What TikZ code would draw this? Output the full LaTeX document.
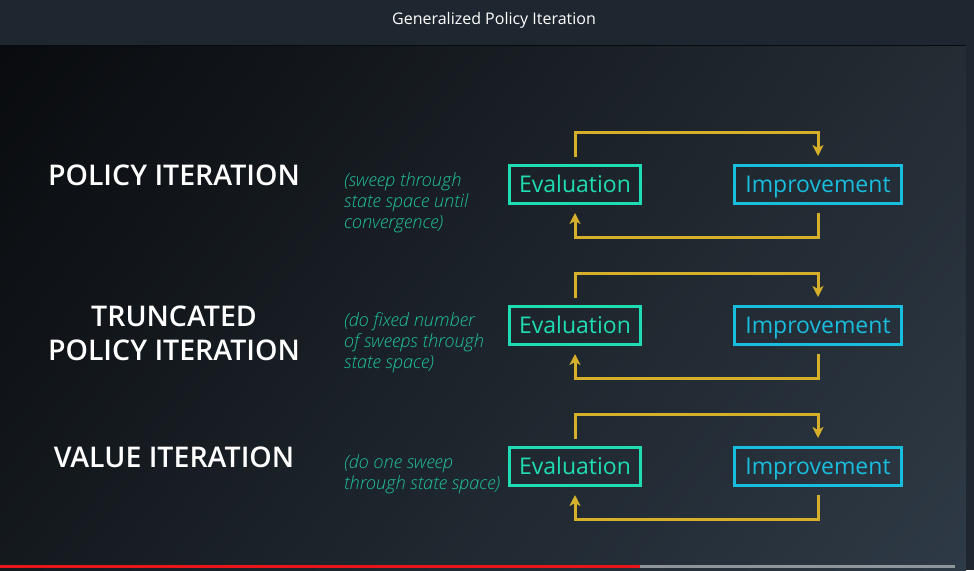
\documentclass[tikz,border=0pt]{standalone}
\usepackage{fontspec}
\setmainfont{Open Sans}
\newfontfamily\headfont{Open Sans Semibold}
\newfontfamily\lightfont{Open Sans Light}
\usetikzlibrary{arrows.meta,calc,shadings}
\definecolor{hdr}{HTML}{1E2730}
\definecolor{evalc}{HTML}{1FDDB2}
\definecolor{impc}{HTML}{19BEDF}
\definecolor{goldc}{HTML}{D6B02B}
\definecolor{notec}{HTML}{1FC39A}
\definecolor{barred}{HTML}{E8161B}
\definecolor{bargray}{HTML}{8E959B}
\definecolor{bgul}{HTML}{090B0E}
\definecolor{bgur}{HTML}{242C34}
\definecolor{bgll}{HTML}{14191E}
\definecolor{bglr}{HTML}{2E3A46}
\begin{document}
\begin{tikzpicture}[x=1pt,y=-1pt,
  evalbox/.style={draw=evalc,line width=3pt,text=evalc,minimum width=131pt,minimum height=38pt,inner sep=0pt,text height=16pt,text depth=0pt,font=\fontsize{23}{26}\selectfont},
  impbox/.style={draw=impc,line width=3pt,text=impc,minimum width=167pt,minimum height=38pt,inner sep=0pt,text height=16pt,text depth=0pt,font=\fontsize{23}{26}\selectfont},
  heading/.style={text=white,align=center,font=\fontsize{28.5}{34}\selectfont\headfont,inner sep=0pt},
  note/.style={text=notec,align=left,anchor=west,font=\fontsize{18.2}{21}\selectfont\lightfont\itshape,inner sep=0pt},
  loopline/.style={draw=goldc,line width=3pt,-{Stealth[length=11pt,width=11pt,inset=3pt]}}
]
\useasboundingbox (0,0) rectangle (974,570);
% background
\shade[upper left=bgul,upper right=bgur,lower left=bgll,lower right=bglr] (0,45) rectangle (966,570);
\fill[hdr] (0,0) rectangle (974,45);
\fill[hdr] (966,45) rectangle (974,570);
\fill[black!70!hdr] (0,45) rectangle (966,46);
\node[text=white,font=\fontsize{16}{19}\selectfont,inner sep=0pt] (title) at (494,20) {Generalized Policy Iteration};
% progress bar
\fill[barred] (0,565) rectangle (640,568);
\fill[bargray] (640,565) rectangle (955,568);

% row 1
\node[heading] (h1) at (174,175.5) {POLICY ITERATION};
\node[note] (n1) at (344,203) {(sweep through\\state space until\\convergence)};
\node[evalbox] (e1) at (575,184.5) {Evaluation};
\node[impbox] (i1) at (818,184.5) {Improvement};
\draw[loopline] ([yshift=7pt]e1.north) -- ++(0,-25) -| ([yshift=8pt]i1.north);
\draw[loopline] ([yshift=-8pt]i1.south) -- ++(0,24) -| ([yshift=-8pt]e1.south);

% row 2
\node[heading] (h2) at (174,333.5) {TRUNCATED\\POLICY ITERATION};
\node[note] (n2) at (344,343) {(do fixed number\\of sweeps through\\state space)};
\node[evalbox] (e2) at (575,325.5) {Evaluation};
\node[impbox] (i2) at (818,325.5) {Improvement};
\draw[loopline] ([yshift=7pt]e2.north) -- ++(0,-25) -| ([yshift=8pt]i2.north);
\draw[loopline] ([yshift=-8pt]i2.south) -- ++(0,24) -| ([yshift=-8pt]e2.south);

% row 3
\node[heading] (h3) at (174,457.5) {VALUE ITERATION};
\node[note] (n3) at (344,474) {(do one sweep\\through state space)};
\node[evalbox] (e3) at (575,466.5) {Evaluation};
\node[impbox] (i3) at (818,466.5) {Improvement};
\draw[loopline] ([yshift=7pt]e3.north) -- ++(0,-25) -| ([yshift=8pt]i3.north);
\draw[loopline] ([yshift=-8pt]i3.south) -- ++(0,24) -| ([yshift=-8pt]e3.south);
\end{tikzpicture}
\end{document}
